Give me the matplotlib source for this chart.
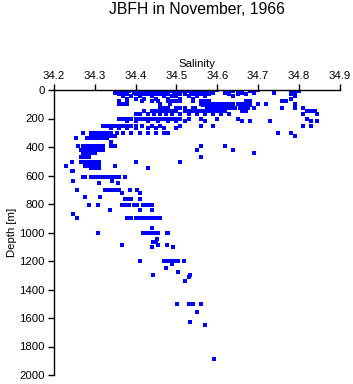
import matplotlib
matplotlib.use("Agg")
import matplotlib.pyplot as plt

plt.rcParams['font.family'] = ['Liberation Sans', 'DejaVu Sans']

title = "JBFH in November, 1966"
x_label = "Salinity"
y_label = "Depth [m]"
x_ticks = [34.2, 34.3, 34.4, 34.5, 34.6, 34.7, 34.8, 34.9]
y_ticks = [0, 200, 400, 600, 800, 1000, 1200, 1400, 1600, 1800, 2000]

# observed rows: depth (m) and salinities at that depth
row_depths = [0, 10, 20, 30, 45, 60, 75, 95, 105, 125, 150, 165, 200, 215,
              250, 265, 300, 320, 340, 365, 395, 420, 440, 470, 505, 530,
              550, 570, 610, 640, 655, 700, 725, 750, 765, 805, 840, 870,
              900, 970, 1005, 1045, 1065, 1090, 1100, 1200, 1220, 1250,
              1280, 1300, 1315, 1340, 1500, 1560, 1630, 1650, 1890]

row_salinities = [
    [34.37, 34.38, 34.39, 34.40, 34.41, 34.42, 34.43, 34.44, 34.45, 34.46, 34.47, 34.48, 34.49,
     34.50, 34.51, 34.52, 34.53, 34.54, 34.55, 34.56, 34.58, 34.60, 34.63, 34.70, 34.79],
    [34.36, 34.37, 34.385, 34.40, 34.405, 34.42, 34.435, 34.45, 34.46, 34.475, 34.49, 34.50,
     34.515, 34.53, 34.545, 34.56, 34.575, 34.59, 34.62, 34.64, 34.65, 34.66, 34.68, 34.78, 34.80],
    [34.35, 34.37, 34.38, 34.395, 34.41, 34.43, 34.44, 34.455, 34.47, 34.48, 34.50, 34.51,
     34.52, 34.535, 34.55, 34.57, 34.59, 34.62, 34.66, 34.69, 34.74, 34.79],
    [34.36, 34.38, 34.40, 34.42, 34.43, 34.45, 34.46, 34.48, 34.495, 34.51, 34.52, 34.54,
     34.56, 34.58, 34.63, 34.65, 34.67, 34.78],
    [34.37, 34.39, 34.41, 34.44, 34.47, 34.49, 34.50, 34.53, 34.55, 34.57, 34.64, 34.79],
    [34.38, 34.40, 34.42, 34.45, 34.48, 34.51, 34.54, 34.78],
    [34.36, 34.38, 34.415, 34.44, 34.455, 34.48, 34.49, 34.50, 34.51, 34.54, 34.56, 34.57,
     34.58, 34.67, 34.68, 34.76, 34.77],
    [34.36, 34.37, 34.38, 34.46, 34.485, 34.56, 34.57, 34.58, 34.59, 34.60, 34.61, 34.62,
     34.63, 34.64, 34.65, 34.66, 34.67, 34.68, 34.70, 34.72, 34.79],
    [34.565, 34.58, 34.60, 34.62, 34.64, 34.66, 34.68],
    [34.46, 34.47, 34.48, 34.50, 34.51, 34.52, 34.54, 34.545, 34.575, 34.585, 34.595, 34.605,
     34.615, 34.625, 34.635, 34.645, 34.655, 34.665, 34.675, 34.69, 34.76, 34.79, 34.81],
    [34.42, 34.44, 34.45, 34.46, 34.47, 34.48, 34.49, 34.50, 34.52, 34.53, 34.54, 34.55,
     34.56, 34.57, 34.58, 34.59, 34.60, 34.61, 34.62, 34.66, 34.67, 34.82, 34.83, 34.84],
    [34.40, 34.41, 34.43, 34.445, 34.46, 34.475, 34.49, 34.51, 34.53, 34.55, 34.57, 34.59,
     34.61, 34.63, 34.81, 34.845],
    [34.36, 34.37, 34.38, 34.39, 34.40, 34.41, 34.42, 34.43, 34.44, 34.45, 34.46, 34.47,
     34.48, 34.49, 34.50, 34.51, 34.53, 34.56, 34.60, 34.65, 34.82],
    [34.38, 34.40, 34.43, 34.455, 34.48, 34.50, 34.52, 34.57, 34.66, 34.68, 34.73, 34.83, 34.845],
    [34.32, 34.33, 34.34, 34.35, 34.36, 34.37, 34.38, 34.39, 34.40, 34.415, 34.44, 34.46,
     34.51, 34.56, 34.59, 34.81, 34.83],
    [34.34, 34.36, 34.38, 34.40, 34.43, 34.45, 34.47, 34.50],
    [34.27, 34.29, 34.30, 34.31, 34.32, 34.33, 34.34, 34.355, 34.37, 34.39, 34.41, 34.43,
     34.45, 34.47, 34.48, 34.75, 34.78],
    [34.29, 34.30, 34.31, 34.32, 34.33, 34.34, 34.35, 34.79],
    [34.255, 34.28, 34.29, 34.30, 34.31, 34.32, 34.33],
    [34.34],
    [34.26, 34.27, 34.28, 34.29, 34.30, 34.31, 34.32, 34.34, 34.35, 34.56, 34.62],
    [34.265, 34.27, 34.28, 34.29, 34.30, 34.31, 34.32, 34.55, 34.64],
    [34.27, 34.28, 34.29, 34.30, 34.69],
    [34.265, 34.275, 34.285, 34.56],
    [34.245, 34.265, 34.27, 34.28, 34.29, 34.30, 34.31, 34.40, 34.51],
    [34.23, 34.275, 34.285, 34.29, 34.30, 34.31, 34.35],
    [34.29, 34.30, 34.31, 34.43],
    [34.244, 34.247],
    [34.27, 34.275, 34.29, 34.295, 34.30, 34.31, 34.32, 34.33, 34.34, 34.35, 34.36, 34.375],
    [34.247, 34.342],
    [34.31, 34.357],
    [34.256, 34.325, 34.33, 34.34, 34.35, 34.36, 34.386, 34.403],
    [34.367, 34.411],
    [34.276, 34.313],
    [34.374, 34.38, 34.39, 34.411],
    [34.286, 34.308, 34.367, 34.375, 34.385, 34.395, 34.403, 34.418, 34.425, 34.435, 34.44],
    [34.337, 34.411, 34.44],
    [34.247],
    [34.256, 34.379, 34.39, 34.40, 34.41, 34.42, 34.43, 34.44, 34.45, 34.46],
    [34.44],
    [34.308, 34.418, 34.425, 34.435, 34.445, 34.455, 34.477, 34.48],
    [34.452],
    [34.443, 34.45],
    [34.367, 34.455, 34.477],
    [34.44, 34.492],
    [34.411, 34.47, 34.479, 34.484, 34.489, 34.494, 34.50, 34.504, 34.519],
    [34.489],
    [34.475],
    [34.504],
    [34.443, 34.533],
    [34.531],
    [34.521],
    [34.501, 34.531, 34.536, 34.541, 34.56],
    [34.55],
    [34.533],
    [34.57],
    [34.592],
]

sal = []
dep = []
for d, row in zip(row_depths, row_salinities):
    for s in row:
        sal.append(s)
        dep.append(d)

fig = plt.figure(figsize=(3.53, 3.84), dpi=100)
ax = fig.add_axes([54/353, 1 - 375/384, (339.5 - 54)/353, (375 - 90)/384])

ax.plot(sal, dep, linestyle='none', marker='s', markersize=2.2,
        color='#0000ff', markeredgewidth=0)

ax.set_xlim(34.2, 34.9)
ax.set_ylim(2000, 0)
ax.set_xticks(x_ticks)
ax.set_xticklabels([f"{v:.1f}" for v in x_ticks])
ax.set_yticks(y_ticks)
ax.set_yticklabels([str(v) for v in y_ticks])

ax.xaxis.tick_top()
ax.xaxis.set_label_position('top')
ax.spines['right'].set_visible(False)
ax.spines['bottom'].set_visible(False)
for sp in ('top', 'left'):
    ax.spines[sp].set_linewidth(1.0)
    ax.spines[sp].set_color('black')
ax.tick_params(axis='both', direction='out', length=4.5, width=1.0,
               labelsize=8.2, pad=2, colors='black')
ax.set_xlabel(x_label, fontsize=8.2, labelpad=3)
ax.set_ylabel(y_label, fontsize=8.2, labelpad=2)

fig.text(196.7/353, 1 - 10/384, title, ha='center', va='center', fontsize=11.3)

fig.savefig("out.png", dpi=100)
